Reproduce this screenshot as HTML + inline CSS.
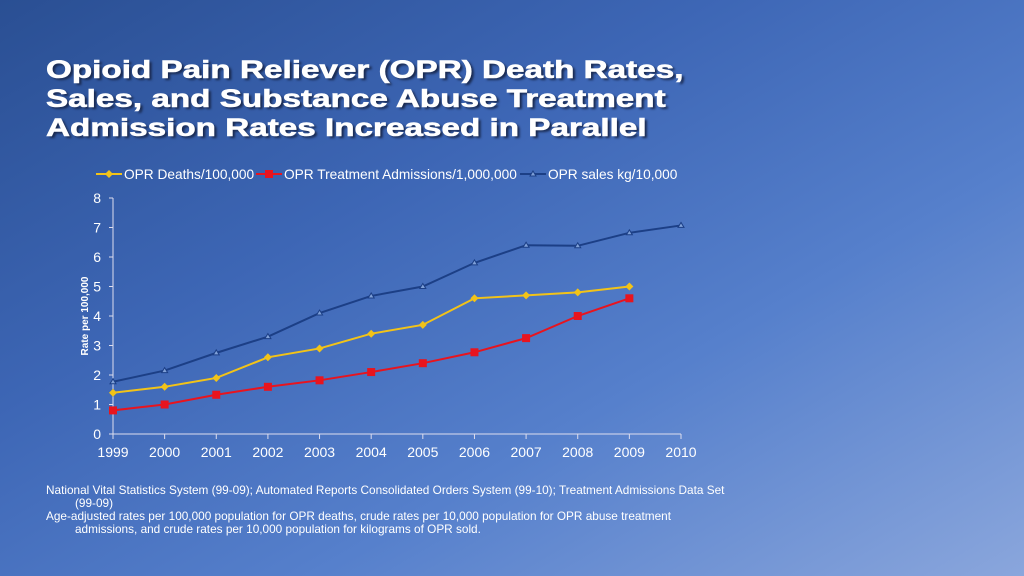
<!DOCTYPE html>
<html><head><meta charset="utf-8"><style>
body{margin:0;width:1024px;height:576px;overflow:hidden;font-family:"Liberation Sans",sans-serif;
background:linear-gradient(150deg,#2a4f93 0%,#3d66b5 35%,#5680cc 65%,#8aa6dc 100%);color:#fff;position:relative}
h1{position:absolute;left:46px;top:56px;margin:0;font-size:25px;line-height:29px;font-weight:bold;text-shadow:2px 2px 2px #1a2a50;transform:scaleX(1.33);transform-origin:left top;white-space:nowrap;-webkit-text-stroke:0.6px #fff}
.foot{position:absolute;left:46px;top:484px;font-size:11.8px;line-height:13px;width:690px}
.foot p{margin:0;padding-left:29px;text-indent:-29px}
</style></head><body>
<h1>Opioid Pain Reliever (OPR) Death Rates,<br>Sales, and Substance Abuse Treatment<br>Admission Rates Increased in Parallel</h1>
<svg id="c" width="1024" height="576" style="position:absolute;left:0;top:0"></svg>
<div class="foot">
<p>National Vital Statistics System (99-09); Automated Reports Consolidated Orders System (99-10); Treatment Admissions Data Set (99-09)</p>
<p>Age-adjusted rates per 100,000 population for OPR deaths, crude rates per 10,000 population for OPR abuse treatment admissions, and crude rates per 10,000 population for kilograms of OPR sold.</p>
</div>
<script>
const years=[1999,2000,2001,2002,2003,2004,2005,2006,2007,2008,2009,2010];
const deaths=[1.4,1.6,1.9,2.6,2.9,3.4,3.7,4.6,4.7,4.8,5.0];
const admissions=[0.8,1.0,1.33,1.6,1.82,2.1,2.4,2.77,3.25,4.0,4.6];
const sales=[1.77,2.15,2.75,3.3,4.1,4.68,5.0,5.8,6.4,6.38,6.82,7.07];
const yTicks=[0,1,2,3,4,5,6,7,8];
const NS="http://www.w3.org/2000/svg",svg=document.getElementById('c');
const X=i=>113+i*(681-113)/(years.length-1), Y=v=>434-v*(434-198)/8;
function el(t,a,p){const e=document.createElementNS(NS,t);for(const k in a)e.setAttribute(k,a[k]);(p||svg).appendChild(e);return e}
const ax=el('g',{});


el('line',{x1:113,y1:198,x2:113,y2:434,stroke:'#dde',"stroke-width":1},ax);
el('line',{x1:113,y1:434,x2:681,y2:434,stroke:'#dde',"stroke-width":1},ax);
yTicks.forEach(v=>{el('line',{x1:109,x2:113,y1:Y(v),y2:Y(v),stroke:'#dde'},ax);
const t=el('text',{x:101,y:Y(v)+5,"text-anchor":"end",fill:"#fff","font-size":14},ax);t.textContent=v;

});
years.forEach((y,i)=>{el('line',{x1:X(i),x2:X(i),y1:434,y2:439,stroke:'#dde'},ax);
const t=el('text',{x:X(i),y:457,"text-anchor":"middle",fill:"#fff","font-size":14},ax);t.textContent=y;

});
const yt=el('text',{x:0,y:0,transform:"translate(88,316) rotate(-90)","text-anchor":"middle",fill:"#fff","font-size":10,"font-weight":"bold"});
yt.textContent="Rate per 100,000";


function series(data,color,name,marker){
const g=el('g',{});


el('polyline',{points:data.map((v,i)=>X(i)+','+Y(v)).join(' '),fill:'none',stroke:color,"stroke-width":2},g);
data.forEach((v,i)=>marker(X(i),Y(v),g));}
const diamond=c=>(x,y,g)=>el('path',{d:`M${x} ${y-4}L${x+4} ${y}L${x} ${y+4}L${x-4} ${y}Z`,fill:c},g);
const square=c=>(x,y,g)=>el('rect',{x:x-4,y:y-4,width:8,height:8,fill:c},g);
const tri=c=>(x,y,g)=>el('path',{d:`M${x} ${y-3}L${x+3} ${y+2}L${x-3} ${y+2}Z`,fill:'#7fa0d8',stroke:c,"stroke-width":1},g);
series(sales,'#1c3f86','series-sales',tri('#1c3f86'));
series(deaths,'#f2c318','series-deaths',diamond('#f2c318'));
series(admissions,'#e8141e','series-admissions',square('#e8141e'));
const leg=[["OPR Deaths/100,000",'#f2c318',diamond,96],["OPR Treatment Admissions/1,000,000",'#e8141e',square,256],["OPR sales kg/10,000",'#1c3f86',tri,520]];
leg.forEach(([t,c,m,x])=>{const g=el('g',{});


el('line',{x1:x,x2:x+26,y1:174,y2:174,stroke:c,"stroke-width":2},g);m(c)(x+13,174,g);
const tx=el('text',{x:x+28,y:179,fill:'#fff',"font-size":13.7},g);tx.textContent=t;});
</script>
</body></html>
